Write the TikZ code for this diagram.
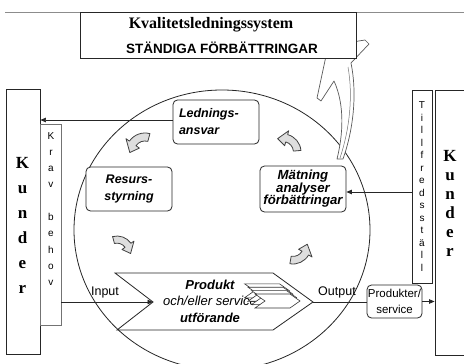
\documentclass[tikz,border=0pt]{standalone}
\usepackage{fontspec}
\setmainfont{Liberation Serif}
\setsansfont{Liberation Sans}
\usetikzlibrary{arrows.meta}

\tikzset{
  ink/.style={draw=black!85, line width=0.8pt},
  plainbox/.style={ink, fill=white, inner sep=0pt},
  roundbox/.style={ink, fill=white, rounded corners=4.5pt, inner sep=0pt},
  boxtext/.style={font=\sffamily\bfseries\itshape\fontsize{12.5}{#1}\selectfont},
  flowtext/.style={font=\sffamily\fontsize{12.5}{14}\selectfont, inner sep=0pt},
  letter/.style={font=\sffamily\fontsize{10}{12}\selectfont, inner sep=0pt, anchor=base},
  kletter/.style={font=\rmfamily\bfseries\fontsize{17}{20}\selectfont, inner sep=0pt, anchor=base},
  flow/.style={draw=black!85, line width=0.7pt, -{Triangle[length=5.5pt,width=4.5pt]}},
  cyclearrow/.style={draw=black!75, line width=0.8pt, fill=black!13, line join=round},
  docstack/.style={draw=black!80, line width=0.6pt, fill=white},
  bigarrow/.style={draw=black!65, line width=0.7pt, fill=white, line join=round},
  pics/turn/.style={code={
    \begin{scope}[x=1pt,y=1pt]
      \path[cyclearrow] (-10:1) arc[start angle=-10,end angle=60,radius=1]
        -- (60:1.22) -- (97:0.8) -- (60:0.36) -- (60:0.58)
        arc[start angle=60,end angle=-10,radius=0.58] -- cycle;
    \end{scope}}},
}

\begin{document}
\begin{tikzpicture}[x=1pt,y=-1pt]
\useasboundingbox (0,0) rectangle (464,364);
\fill[white] (0,0) rectangle (464,364);

% thin rule along the top
\draw[black!45, line width=0.6pt] (5,12.5) -- (464,12.5);

% process circle
\draw[ink] (222,230) ellipse [x radius=148pt, y radius=140pt];

% improvement arrow rising out of the circle
\draw[bigarrow] (337,159) .. controls (343,135) and (345,105) .. (334,81)
  -- (321,101) -- (317,98) -- (326,56) -- (340,44) -- (365,40) -- (369,44)
  -- (351,63) .. controls (357,92) and (354,128) .. (343,159) -- cycle;
\draw[black!55, line width=0.5pt] (348,67) .. controls (353,95) and (350,128) .. (340,158);

% title
\node[plainbox, line width=0.9pt, minimum width=276pt, minimum height=46pt] (title) at (218,35.8) {};
\node[font=\rmfamily\bfseries\fontsize{16}{16}\selectfont, inner sep=0pt] (titleA) at (211,25) {Kvalitetsledningssystem};
\node[font=\sffamily\bfseries\fontsize{13.5}{14}\selectfont, inner sep=0pt] (titleB) at (222,47.5) {STÄNDIGA FÖRBÄTTRINGAR};

% customers, left and right
\node[plainbox, line width=0.9pt, minimum width=34pt, minimum height=265pt] (kundL) at (23,221.5) {};
\node[plainbox, line width=0.9pt, minimum width=31pt, minimum height=265pt] (kundR) at (450.5,222.5) {};
\foreach \ch [count=\i from 0] in {K,u,n,d,e,r}
  \node[kletter] (kl\i) at (22.5,168+25*\i) {\ch};
\foreach \ch [count=\i from 0] in {K,u,n,d,e,r}
  \node[kletter] (kr\i) at (450,161+19*\i) {\ch};

% requirements column
\node[plainbox, draw=black!55, minimum width=21pt, minimum height=201pt] (krav) at (50.5,224.5) {};
\foreach \ch/\p [count=\i] in {K/0,r/1,a/2,v/3,b/5,e/6,h/7,o/8,v/9}
  \node[letter] (kv\i) at (51,139+16.3*\p) {\ch};

% satisfaction column
\node[plainbox, minimum width=20pt, minimum height=193pt] (tills) at (422,186.5) {};
\foreach \ch [count=\i from 0] in {T,i,l,l,f,r,e,d,s,s,t,ä,l,l}
  \node[letter] (ts\i) at (422,108.6+12.5*\i) {\ch};

% activity boxes
\node[roundbox, minimum width=86pt, minimum height=44pt, boxtext=17, text width=74pt, align=left] (ledn) at (216,122) {Lednings-\\ansvar};
\node[roundbox, minimum width=86pt, minimum height=44pt, boxtext=17, align=center] (resurs) at (129,189) {Resurs-\\styrning};
\node[roundbox, minimum width=86pt, minimum height=46pt, font=\sffamily\bfseries\itshape\fontsize{13.2}{12.5}\selectfont, align=center] (mat) at (303,189) {Mätning\\analyser\\förbättringar};

% cycle arrows
\pic[rotate=85, scale=19] at (145,152) {turn};
\pic[rotate=-85, xscale=-1, scale=17] at (117,253) {turn};
\pic[rotate=-90, scale=18] at (293,246) {turn};
\pic[rotate=15, scale=18] at (283,152) {turn};

% product realisation
\coordinate (notch) at (153,302);
\coordinate (tip) at (313,302);
\draw[ink, line join=miter] (115,273) -- (273,273) -- (tip) -- (273,330) -- (117,330) -- (notch) -- cycle;
\node[font=\sffamily\fontsize{13}{16.5}\selectfont, align=center, inner sep=0pt] (prodtxt) at (210,301)
  {{\bfseries\itshape Produkt}\\{\itshape och/eller service}\\{\bfseries\itshape utförande}};
\foreach \d in {3,2,1,0}
  \draw[docstack, shift={(-3.5*\d,-3.4*\d)}] (255,294) -- (290,294) -- (300,301) -- (290,308) -- (255,308) -- (265,301) -- cycle;

% output box
\node[roundbox, minimum width=55pt, minimum height=33pt, font=\sffamily\fontsize{11.5}{16}\selectfont, align=center] (prodsvc) at (394.5,301.5) {Produkter/\\service};

% connectors
\coordinate (ledOut) at ([yshift=2pt]ledn.west);
\draw[flow] (ledOut) -- (ledOut -| kundL.east);
\coordinate (matIn) at ([yshift=-3pt]mat.east);
\draw[flow] (matIn -| tills.west) -- (matIn);
\draw[flow] (notch -| krav.east) -- (notch);
\node[flowtext] (inlbl) at (105,292) {Input};
\draw[ink] (tip) -- (tip -| prodsvc.west);
\node[flowtext] (outlbl) at (337,292) {Output};
\draw[flow] (prodsvc.east) -- (prodsvc.east -| kundR.west);
\end{tikzpicture}
\end{document}
